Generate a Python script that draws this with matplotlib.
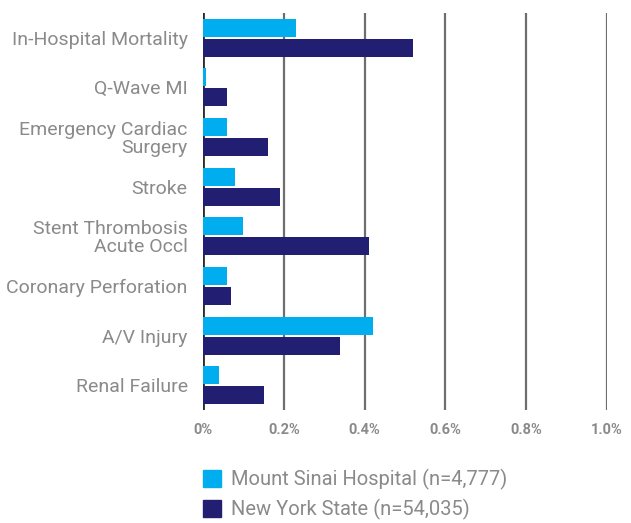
import matplotlib
matplotlib.use("Agg")
import matplotlib.pyplot as plt
import numpy as np
from matplotlib.patches import Patch

categories = [
    "In-Hospital Mortality",
    "Q-Wave MI",
    "Emergency Cardiac\nSurgery",
    "Stroke",
    "Stent Thrombosis\nAcute Occl",
    "Coronary Perforation",
    "A/V Injury",
    "Renal Failure",
]
msh_values = [0.23, 0.008, 0.06, 0.08, 0.10, 0.06, 0.42, 0.04]
nys_values = [0.52, 0.06, 0.16, 0.19, 0.41, 0.07, 0.34, 0.15]
series_labels = ["Mount Sinai Hospital (n=4,777)", "New York State (n=54,035)"]
xticks = [0.0, 0.2, 0.4, 0.6, 0.8, 1.0]
xtick_labels = ["0%", "0.2%", "0.4%", "0.6%", "0.8%", "1.0%"]

MSH_COLOR = "#00AEEF"
NYS_COLOR = "#221F72"
TEXT_COLOR = "#8a8a8a"

plt.rcParams["font.family"] = ["Roboto", "DejaVu Sans"]

fig = plt.figure(figsize=(6.31, 5.23), dpi=100)
ax = fig.add_axes([203 / 631, 1 - 410 / 523, 404 / 631, 397 / 523])

y = np.arange(len(categories))
h = 0.363
ax.barh(y - h / 2 - 0.02, msh_values, height=h, color=MSH_COLOR, zorder=3)
ax.barh(y + h / 2 + 0.02, nys_values, height=h, color=NYS_COLOR, zorder=3)

ax.set_xlim(0, 1.0)
ax.set_ylim(len(categories) - 0.5, -0.5)

for xv in xticks[1:]:
    ax.axvline(xv, color="#6e6e6e", linewidth=1.6, zorder=1)
ax.axvline(0, color="#2b2b2b", linewidth=2.0, zorder=2)

ax.set_yticks(y)
ax.set_yticklabels(categories, fontsize=14, color=TEXT_COLOR, linespacing=1.0)
ax.set_xticks(xticks)
ax.set_xticklabels(xtick_labels, fontsize=10.5, color=TEXT_COLOR, fontweight="bold")
ax.tick_params(axis="y", length=0, pad=11)
ax.tick_params(axis="x", length=0, pad=9)
for s in ax.spines.values():
    s.set_visible(False)

handles = [Patch(color=MSH_COLOR), Patch(color=NYS_COLOR)]
fig.legend(handles, series_labels, loc="upper left",
           bbox_to_anchor=(185 / 631, 1 - 451 / 523), frameon=False,
           fontsize=14.5, handlelength=0.9, handleheight=0.9,
           handletextpad=0.5, labelspacing=0.45, labelcolor=TEXT_COLOR)

fig.savefig("out.png", dpi=100)
